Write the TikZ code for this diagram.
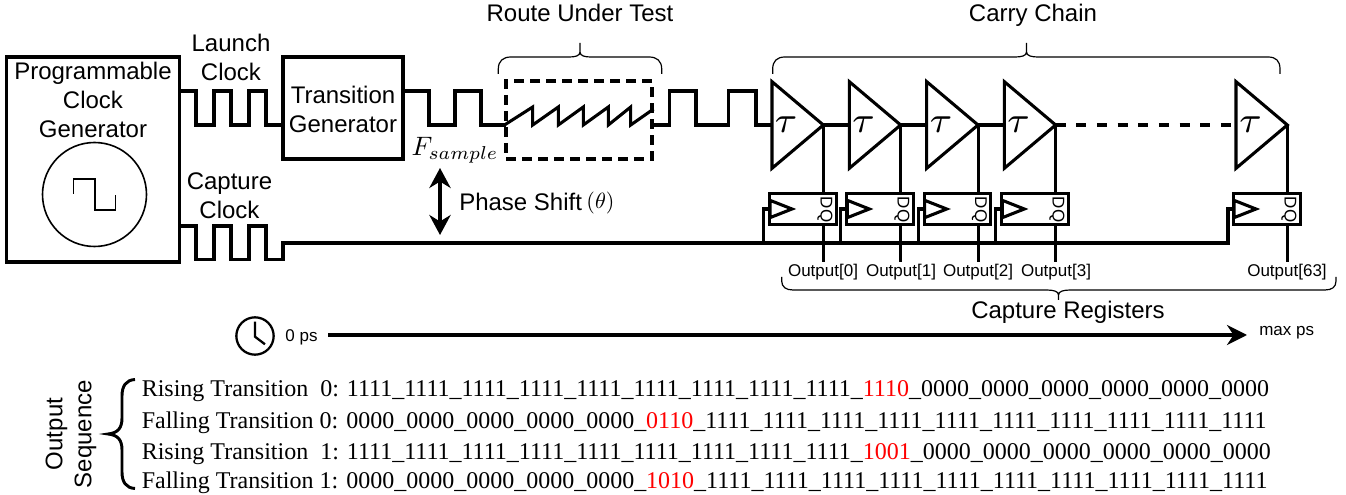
\documentclass[tikz,border=0pt]{standalone}
\usepackage{fontspec}
\setmainfont{Liberation Sans}
\newfontfamily\rowfont{Liberation Serif}
\usetikzlibrary{arrows.meta, shapes.geometric}

\begin{document}
\begin{tikzpicture}[
  x=0.75pt, y=-0.75pt,
  tag/.style={font=\fontsize{18}{21.75}\selectfont, align=center, inner sep=0pt},
  basetag/.style={font=\fontsize{18}{21.75}\selectfont, anchor=base, inner sep=0pt},
  smalltag/.style={font=\fontsize{12.75}{15}\selectfont, inner sep=0pt},
  rowtag/.style={font=\rowfont\fontsize{18}{20}\selectfont, anchor=base west, inner sep=0pt},
  mathtag/.style={font=\fontsize{10}{12}\selectfont, scale=#1, inner sep=0pt},
  tautag/.style={font=\fontsize{7}{8}\selectfont, scale=3.9, inner sep=0pt},
  box/.style={draw, rectangle, line width=2.3pt, inner sep=0pt},
  regbox/.style={draw, rectangle, line width=2.3pt, inner sep=0pt, minimum width=50pt, minimum height=23pt},
  buf/.style={draw, isosceles triangle, isosceles triangle stretches, shape border rotate=0, line width=2.3pt, inner sep=0pt, outer sep=0pt, minimum width=65pt, minimum height=38.5pt},
  clk/.style={draw, isosceles triangle, isosceles triangle stretches, shape border rotate=0, line width=2.3pt, inner sep=0pt, outer sep=0pt, minimum width=13pt, minimum height=16.5pt},
  dqtag/.style={font=\fontsize{12.75}{12.75}\selectfont, rotate=-90, inner sep=0pt},
  wire/.style={line width=2.3pt},
  arrow/.style={-{Stealth[length=15pt, width=15pt]}, line width=2.4pt},
  dblarrow/.style={{Stealth[length=15pt, width=16pt]}-{Stealth[length=15pt, width=16pt]}, line width=2.4pt},
  brc/.style={line width=0.9pt}
]
\useasboundingbox (0,0) rectangle (1346,495);

% Clock source
\node[box, minimum width=129.75pt, minimum height=153.75pt] (pcg) at (93,159.5) {};
\node[tag] (pcgtext) at (93,100) {Programmable\\Clock\\Generator};
\draw[line width=1.2pt] (94.5,194.5) circle [radius=52];
\draw[line width=1.2pt] (73.5,194) -- (73.5,179) -- (95,179) -- (95,210) -- (115.5,210) -- (115.5,195);
\node[tag] (launch) at (231,57) {Launch\\Clock};
\node[tag] (capture) at (229.5,196) {Capture\\Clock};
\node[box, minimum width=90pt, minimum height=76.5pt] (tg) at (343,108) {};
\node[tag] (tgtext) at (343,109) {Transition\\Generator};

% Launch path
\draw[wire] (pcg.east |- 0,91) -- (196,91) -- (196,125) -- (214,125) -- (214,91) -- (231,91) -- (231,125) -- (249,125) -- (249,91) -- (266,91) -- (266,125) -- (tg.west |- 0,125);
\draw[wire] (tg.east |- 0,91) -- (429,91) -- (429,125) -- (455,125) -- (455,91) -- (481,91) -- (481,125) -- (506,125);
\node[mathtag=2] (fs) at (455,150) {$F_{sample}$};

% Route under test
\node[draw, rectangle, dashed, dash pattern=on 7.5pt off 4.5pt, line width=2.3pt, inner sep=0pt, minimum width=109.5pt, minimum height=58.5pt] (rut) at (579,120) {};
\draw[wire] (rut.west |- 0,125) -- (532.7,107) -- (532.7,125) -- (558.3,107) -- (558.3,125) -- (583.3,107) -- (583.3,125) -- (608.3,107) -- (608.3,125) -- (630.7,107) -- (630.7,125) -- (rut.east |- 0,109);
\node[basetag] (ruttext) at (580,22) {Route Under Test};
\draw[brc] (498.3,74) -- (498.3,69) .. controls (498.3,61) and (503,57) .. (511,57) -- (569,57) .. controls (575,57) and (580,56) .. (580,52) -- (580,43) -- (580,52) .. controls (580,56) and (585,57) .. (591,57) -- (649,57) .. controls (657,57) and (661.7,61) .. (661.7,69) -- (661.7,74);

% Carry chain
\node[basetag] (cctext) at (1033,22) {Carry Chain};
\draw[brc] (772.7,74) -- (772.7,69) .. controls (772.7,61) and (777,57) .. (785,57) -- (1015,57) .. controls (1021,57) and (1026.5,56) .. (1026.5,52) -- (1026.5,43) -- (1026.5,52) .. controls (1026.5,56) and (1032,57) .. (1038,57) -- (1268,57) .. controls (1276,57) and (1280,61) .. (1280,69) -- (1280,74);
\node[buf, anchor=west] (b0) at (772,125) {};
\node[buf, anchor=west] (b1) at (849.3,125) {};
\node[buf, anchor=west] (b2) at (926.7,125) {};
\node[buf, anchor=west] (b3) at (1004.3,125) {};
\node[buf, anchor=west] (b63) at (1236,125) {};
\node[tautag] (tau0) at (786,125) {$\tau$};
\node[tautag] (tau1) at (863.5,125) {$\tau$};
\node[tautag] (tau2) at (941,125) {$\tau$};
\node[tautag] (tau3) at (1018.5,125) {$\tau$};
\node[tautag] (tau63) at (1250.5,125) {$\tau$};

\draw[wire] (rut.east |- 0,125) -- (669.3,125) -- (669.3,91) -- (696,91) -- (696,125) -- (728.3,125) -- (728.3,91) -- (756,91) -- (756,125) -- (b0.west);
\draw[wire] (b0.east) -- (b1.west);
\draw[wire] (b1.east) -- (b2.west);
\draw[wire] (b2.east) -- (b3.west);
\draw[wire, dashed, dash pattern=on 7.5pt off 8pt] (b3.east) -- (b63.west);

% Capture registers
\node[regbox] (r0) at (802.7,208.8) {};
\node[regbox] (r1) at (880,208.8) {};
\node[regbox] (r2) at (957.4,208.8) {};
\node[regbox] (r3) at (1035,208.8) {};
\node[regbox] (r63) at (1267,208.8) {};
\node[clk, anchor=west] (c0) at (770,209) {};
\node[clk, anchor=west] (c1) at (847.3,209) {};
\node[clk, anchor=west] (c2) at (924.7,209) {};
\node[clk, anchor=west] (c3) at (1002.3,209) {};
\node[clk, anchor=west] (c63) at (1234,209) {};
\node[dqtag] (dq0) at (825,209.5) {DQ};
\node[dqtag] (dq1) at (902,209.5) {DQ};
\node[dqtag] (dq2) at (979.5,209.5) {DQ};
\node[dqtag] (dq3) at (1057,209.5) {DQ};
\node[dqtag] (dq63) at (1289,209.5) {DQ};

\node[smalltag] (o0) at (823,272) {Output[0]};
\node[smalltag] (o1) at (901,272) {Output[1]};
\node[smalltag] (o2) at (978,272) {Output[2]};
\node[smalltag] (o3) at (1056,272) {Output[3]};
\node[smalltag] (o63) at (1287,272) {Output[63]};

\draw[wire] (b0.east) -- (b0.east |- r0.north);
\draw[wire] (b1.east) -- (b1.east |- r1.north);
\draw[wire] (b2.east) -- (b2.east |- r2.north);
\draw[wire] (b3.east) -- (b3.east |- r3.north);
\draw[wire] (b63.east) -- (b63.east |- r63.north);
\draw[wire] (b0.east |- r0.south) -- (b0.east |- 0,262);
\draw[wire] (b1.east |- r1.south) -- (b1.east |- 0,262);
\draw[wire] (b2.east |- r2.south) -- (b2.east |- 0,262);
\draw[wire] (b3.east |- r3.south) -- (b3.east |- 0,262);
\draw[wire] (b63.east |- r63.south) -- (b63.east |- 0,262);

% Capture path
\coordinate (t0) at (763.3,243);
\coordinate (t1) at (840.7,243);
\coordinate (t2) at (918.3,243);
\coordinate (t3) at (995.7,243);
\coordinate (t63) at (1228,243);
\draw[wire] (pcg.east |- 0,226) -- (196,226) -- (196,259.5) -- (214,259.5) -- (214,226) -- (231,226) -- (231,259.5) -- (249,259.5) -- (249,226) -- (266,226) -- (266,259.5) -- (283,259.5) -- (283,243) -- (t63) |- (c63.west);
\draw[wire] (t0) |- (c0.west);
\draw[wire] (t1) |- (c1.west);
\draw[wire] (t2) |- (c2.west);
\draw[wire] (t3) |- (c3.west);

% Phase shift
\coordinate (ps1) at (440,168);
\coordinate (ps2) at (440,235);
\draw[dblarrow] (ps1) -- (ps2);
\node[basetag, anchor=base west] (pstext) at (459,211) {Phase Shift};
\node[mathtag=1.65] (pstheta) at (600.5,203) {$(\theta)$};

\draw[brc] (1336,277) -- (1336,281) .. controls (1336,287) and (1332,290) .. (1325,290) -- (1071,290) .. controls (1064,290) and (1058.5,291) .. (1058.5,295) -- (1058.5,300) -- (1058.5,295) .. controls (1058.5,291) and (1053,290) .. (1046,290) -- (793,290) .. controls (786,290) and (781.7,287) .. (781.7,281) -- (781.7,277);
\node[basetag] (crtext) at (1068,319) {Capture Registers};

% Time axis
\node[draw, circle, line width=1.7pt, minimum size=28pt, inner sep=0pt] (clock) at (255,336) {};
\draw[line width=1.7pt] (255,321.7) -- (255,336.7) -- (265,344.3);
\node[smalltag] (t0ps) at (301.5,337) {0 ps};
\node[smalltag] (tmax) at (1286.7,333) {max ps};
\coordinate (a1) at (328,335);
\coordinate (a2) at (1247,335);
\draw[arrow] (a1) -- (a2);

% Output sequence
\node[tag, rotate=90] (seq) at (71,434) {Output\\Sequence};
\draw[line width=2.2pt] (135,379.5) .. controls (126,380) and (122,386) .. (122,396) -- (122,418) .. controls (122,428) and (118,433) .. (108,434) .. controls (118,435) and (122,440) .. (122,450) -- (122,472) .. controls (122,482) and (126,488) .. (135,488.5);
\node[rowtag] (row1) at (141.5,397) {Rising Transition~~0: 1111\_1111\_1111\_1111\_1111\_1111\_1111\_1111\_1111\_\textcolor{red}{1110}\_0000\_0000\_0000\_0000\_0000\_0000};
\node[rowtag] (row2) at (141.5,428) {Falling Transition 0: 0000\_0000\_0000\_0000\_0000\_\textcolor{red}{0110}\_1111\_1111\_1111\_1111\_1111\_1111\_1111\_1111\_1111\_1111};
\node[rowtag] (row3) at (141.5,459) {Rising Transition~~1: 1111\_1111\_1111\_1111\_1111\_1111\_1111\_1111\_1111\_\textcolor{red}{1001}\_0000\_0000\_0000\_0000\_0000\_0000};
\node[rowtag] (row4) at (141.5,488) {Falling Transition 1: 0000\_0000\_0000\_0000\_0000\_\textcolor{red}{1010}\_1111\_1111\_1111\_1111\_1111\_1111\_1111\_1111\_1111\_1111};

\end{tikzpicture}
\end{document}
